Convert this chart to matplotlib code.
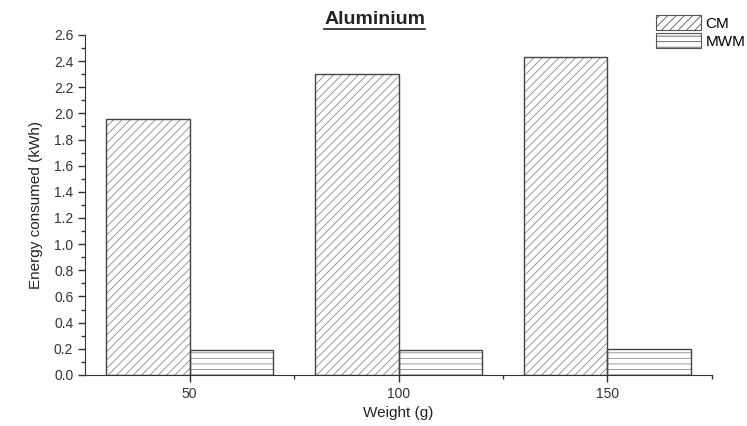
import matplotlib.pyplot as plt
import numpy as np

plt.rcParams['font.family'] = ['Liberation Sans', 'DejaVu Sans']
plt.rcParams['hatch.linewidth'] = 0.6

weights = [50, 100, 150]
cm = [1.96, 2.30, 2.43]
mwm = [0.19, 0.19, 0.20]


def main():
    fig = plt.figure(figsize=(7.47, 4.26), dpi=100)
    ax = fig.add_axes([0.114, 0.12, 0.839, 0.798])

    x = np.array(weights)
    w = 20
    # hatch first (light), then outline (dark)
    ax.bar(x - w / 2, cm, w, color='white', edgecolor='#8a8a8a', hatch='////', linewidth=0)
    ax.bar(x + w / 2, mwm, w, color='white', edgecolor='#8a8a8a', hatch='---', linewidth=0)
    ax.bar(x - w / 2, cm, w, fill=False, edgecolor='#444444', linewidth=1.0)
    ax.bar(x + w / 2, mwm, w, fill=False, edgecolor='#444444', linewidth=1.0)

    ax.set_xlim(25, 175)
    ax.set_ylim(0, 2.6)
    ax.set_xticks(weights)
    ax.set_xticks([75, 125, 175], minor=True)
    ax.set_yticks(np.arange(0, 2.61, 0.2))
    ax.set_yticklabels(['%.1f' % v for v in np.arange(0, 2.61, 0.2)])
    ax.set_yticks(np.arange(0.1, 2.6, 0.2), minor=True)
    ax.tick_params(axis='both', which='major', labelsize=10, length=5, width=1, colors='#333333')
    ax.tick_params(axis='x', which='major', pad=4)
    ax.tick_params(axis='both', which='minor', length=3, width=1, colors='#333333')
    ax.spines['top'].set_visible(False)
    ax.spines['right'].set_visible(False)
    for s in ['left', 'bottom']:
        ax.spines[s].set_color('#333333')
    ax.set_xlabel('Weight (g)', fontsize=11, color='#222222', labelpad=3)
    ax.set_ylabel('Energy consumed (kWh)', fontsize=11, color='#222222', labelpad=8)

    t = fig.text(0.502, 0.935, 'Aluminium', ha='center', va='bottom', fontsize=14,
                 fontweight='bold', color='#222222')
    fig.canvas.draw()
    bb = t.get_window_extent().transformed(fig.transFigure.inverted())
    fig.add_artist(plt.Line2D([bb.x0, bb.x1], [bb.y0 - 0.004, bb.y0 - 0.004],
                              color='#222222', linewidth=1.2))

    h1 = plt.Rectangle((0, 0), 1, 1, facecolor='white', edgecolor='#555555', hatch='////', linewidth=0.8)
    h2 = plt.Rectangle((0, 0), 1, 1, facecolor='white', edgecolor='#555555', hatch='---', linewidth=0.8)
    fig.legend([h1, h2], ['CM', 'MWM'], loc='upper right', bbox_to_anchor=(1.018, 1.0),
               frameon=False, fontsize=11, handlelength=2.9, handleheight=1.1,
               handletextpad=0.3, labelspacing=0.15, borderpad=0.5)

    fig.savefig('out.png', dpi=100)


if __name__ == "__main__":
    main()
